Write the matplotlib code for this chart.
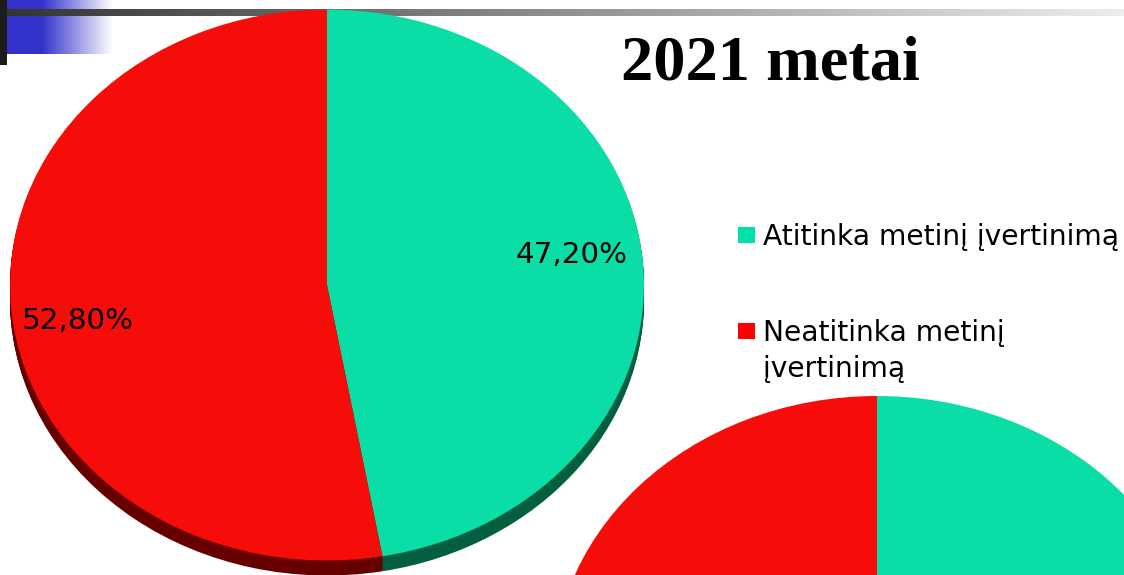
import numpy as np
import matplotlib
matplotlib.use("Agg")
import matplotlib.pyplot as plt

W, H = 1124, 575

labels = ["Atitinka metinį įvertinimą", "Neatitinka metinį\nįvertinimą"]
values = [47.2, 52.8]
value_labels = ["47,20%", "52,80%"]
colors = ["#0ADDA5", "#F60C08"]
side_colors = ["#045F40", "#660000"]
legend_colors = ["#00E0A8", "#FF0000"]
title = "2021 metai"

fig = plt.figure(figsize=(W / 100, H / 100), dpi=100, facecolor="white")


def px_axes(x0, y0, x1, y1, z=1):
    # pixel box measured from the top left of the picture
    ax = fig.add_axes([x0 / W, 1 - y1 / H, (x1 - x0) / W, (y1 - y0) / H], zorder=z)
    ax.axis("off")
    return ax


def draw_pie(cx, cy, rx, ry, cols, z):
    ax = px_axes(cx - rx, cy - ry, cx + rx, cy + ry, z)
    ax.patch.set_alpha(0)
    ax.pie(values, colors=cols, startangle=90, counterclock=False, radius=1,
           wedgeprops=dict(linewidth=0))
    ax.set_aspect("auto")
    ax.set_xlim(-1, 1)
    ax.set_ylim(-1, 1)
    for p in ax.patches:
        p.set_clip_on(False)
    return ax


# header decoration
bg = px_axes(0, 0, W, H, 0)
bg.set_xlim(0, W)
bg.set_ylim(H, 0)
blue = np.ones((1, 110, 4))
blue[..., :3] = np.array([0x33, 0x33, 0xCC]) / 255
blue[0, :, 3] = np.clip((105 - np.arange(110)) / 70, 0, 1)
bg.imshow(blue, extent=(7, 117, 54, 0), aspect="auto", zorder=1)
grey = np.zeros((1, 256, 4))
grey[..., :3] = np.linspace(0.2, 0.93, 256)[:, None]
grey[..., 3] = 1
bg.imshow(grey, extent=(0, W, 16, 9), aspect="auto", zorder=2)
bg.fill_between([0, 7], 0, 65, color="#1C1C1C", lw=0, zorder=3)
bg.set_xlim(0, W)
bg.set_ylim(H, 0)

# big pie with its side
for d in range(15, 0, -1):
    draw_pie(327, 285 + d, 317, 275.5, side_colors, 2)
draw_pie(327, 285, 317, 275.5, colors, 3)

# second pie, cut by the lower edge
draw_pie(877, 676, 324, 280, colors, 3)

# texts on top
top = px_axes(0, 0, W, H, 5)
top.set_xlim(0, W)
top.set_ylim(H, 0)
top.text(770.5, 79, title, family="Liberation Serif", weight="bold", fontsize=46.4,
         ha="center", va="baseline", color="black")
top.text(572, 255, value_labels[0], fontsize=21.2, family="DejaVu Sans",
         ha="center", va="center", color="black")
top.text(77.5, 321, value_labels[1], fontsize=21.2, family="DejaVu Sans",
         ha="center", va="center", color="black")

top.fill_between([738, 755], 227, 243, color=legend_colors[0], lw=0)
top.fill_between([738, 755], 323, 339, color=legend_colors[1], lw=0)
top.text(763, 245, labels[0], fontsize=20.25, family="DejaVu Sans",
         ha="left", va="baseline", color="black")
top.text(763, 377, labels[1], fontsize=20.25, family="DejaVu Sans",
         ha="left", va="baseline", color="black", linespacing=1.36)

fig.savefig("out.png", dpi=100)
